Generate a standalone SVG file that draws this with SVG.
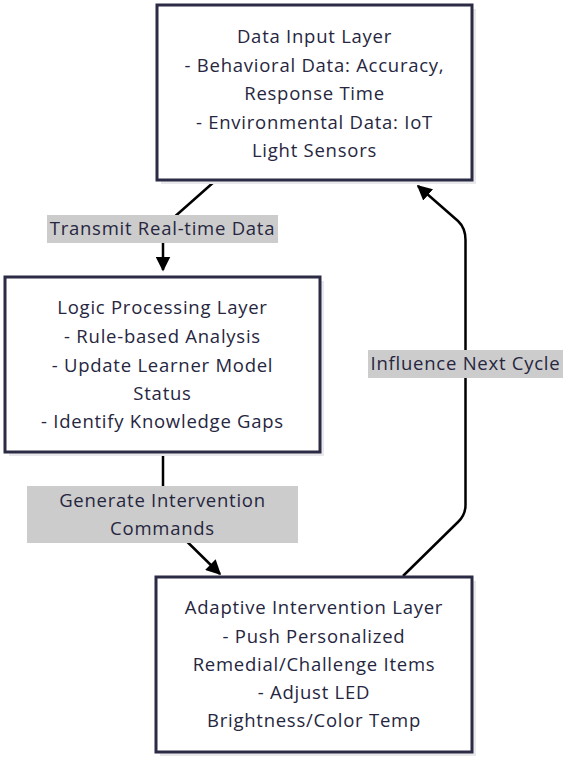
<svg xmlns="http://www.w3.org/2000/svg" width="567" height="763" viewBox="0 0 567 763">
<style>
.box{fill:#ffffff;stroke:#2b2b45;stroke-width:3}
.shadow{fill:#e9e9ec}
.t{font-family:"Open Sans","Noto Sans","Liberation Sans",sans-serif;font-size:18.5px;letter-spacing:0.75px;fill:#262640;text-anchor:middle}
.lbl{fill:#cccccc}
.edge{fill:none;stroke:#000000;stroke-width:2.5;stroke-linejoin:round}
</style>
<defs>
<marker id="arr" viewBox="0 0 10 10" refX="9" refY="5" markerWidth="6" markerHeight="6" markerUnits="strokeWidth" orient="auto">
<path d="M0,0 L10,5 L0,10 z" fill="#000000"/>
</marker>
</defs>
<rect width="567" height="763" fill="#ffffff"/>
<g id="connectors">
<path class="edge" d="M215,181 L163,227 L163,270" marker-end="url(#arr)"/>
<path class="edge" d="M163,453 L163,518 L220,574" marker-end="url(#arr)"/>
<path class="edge" d="M403,576 L458,522 Q465.5,515 465.5,505 L465.5,240 Q465.5,228 458,221 L418,186" marker-end="url(#arr)"/>
</g>
<g id="label-transmit">
<rect class="lbl" x="47" y="215" width="231" height="28"/>
<text class="t" x="162.5" y="235">Transmit Real-time Data</text>
</g>
<g id="label-generate">
<rect class="lbl" x="27" y="486" width="271" height="57"/>
<text class="t" x="162.5" y="507">Generate Intervention</text>
<text class="t" x="162.5" y="535">Commands</text>
</g>
<g id="label-influence">
<rect class="lbl" x="368" y="350" width="195" height="28"/>
<text class="t" x="465.5" y="370">Influence Next Cycle</text>
</g>
<g id="node-input">
<rect class="shadow" x="161" y="9" width="315" height="175"/>
<rect class="box" x="157" y="5" width="315" height="175"/>
<text class="t" x="314.5" y="43">Data Input Layer</text>
<text class="t" x="314.5" y="72">- Behavioral Data: Accuracy,</text>
<text class="t" x="314.5" y="100">Response Time</text>
<text class="t" x="314.5" y="129">- Environmental Data: IoT</text>
<text class="t" x="314.5" y="157">Light Sensors</text>
</g>
<g id="node-logic">
<rect class="shadow" x="9" y="281" width="315" height="175"/>
<rect class="box" x="5" y="277" width="315" height="175"/>
<text class="t" x="162.5" y="314">Logic Processing Layer</text>
<text class="t" x="162.5" y="343">- Rule-based Analysis</text>
<text class="t" x="162.5" y="372">- Update Learner Model</text>
<text class="t" x="162.5" y="400">Status</text>
<text class="t" x="162.5" y="428">- Identify Knowledge Gaps</text>
</g>
<g id="node-adaptive">
<rect class="shadow" x="160" y="581" width="316" height="175"/>
<rect class="box" x="156" y="577" width="316" height="175"/>
<text class="t" x="314" y="614">Adaptive Intervention Layer</text>
<text class="t" x="314" y="643">- Push Personalized</text>
<text class="t" x="314" y="671">Remedial/Challenge Items</text>
<text class="t" x="314" y="699">- Adjust LED</text>
<text class="t" x="314" y="727">Brightness/Color Temp</text>
</g>
</svg>
